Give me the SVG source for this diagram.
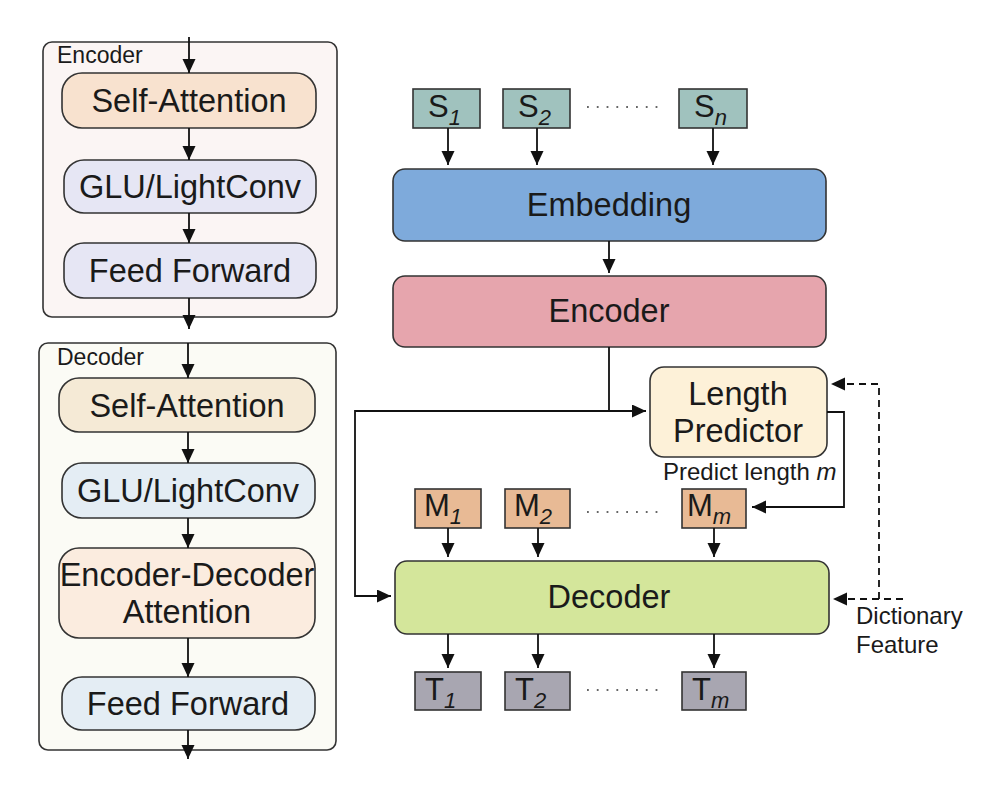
<svg xmlns="http://www.w3.org/2000/svg" width="1006" height="796" viewBox="0 0 1006 796">
<defs>
<marker id="ah" markerUnits="userSpaceOnUse" markerWidth="16" markerHeight="14" refX="14" refY="6.5" orient="auto">
<path d="M0,0 L14,6.5 L0,13 z" fill="#111"/>
</marker>
<style>
text{font-family:"Liberation Sans",Arial,sans-serif;fill:#1a1a1a}
.box{stroke:#333;stroke-width:1.6}
.big{font-size:32.5px;text-anchor:middle}
.rbig{font-size:32.5px;text-anchor:middle}
.lbl{font-size:23px}
.small{font-size:24px}
.sym{font-size:31px}
.sub{font-size:22px;font-style:italic}
.con{fill:none;stroke:#111;stroke-width:1.8}
.dash{fill:none;stroke:#111;stroke-width:1.8;stroke-dasharray:7,5}
.dots{fill:none;stroke:#666;stroke-width:1.8;stroke-dasharray:1.8,8}
</style>
</defs>
<rect width="1006" height="796" fill="#fff"/>

<g id="enc-block">
<rect class="box" x="43" y="42" width="294" height="275" rx="9" fill="#fbf5f4"/>
<text class="lbl" x="57" y="63">Encoder</text>
</g>
<g id="enc-self-attn"><rect class="box" x="62" y="73" width="254" height="55" rx="20" fill="#f8e2cf"/><text class="big" x="189" y="112">Self-Attention</text></g>
<g id="enc-glu"><rect class="box" x="64" y="160" width="252" height="53" rx="20" fill="#e6e6f4"/><text class="big" x="190" y="198">GLU/LightConv</text></g>
<g id="enc-ff"><rect class="box" x="64" y="243" width="252" height="55" rx="20" fill="#e6e6f4"/><text class="big" x="190" y="282">Feed Forward</text></g>

<g id="dec-block">
<rect class="box" x="39" y="343" width="297" height="407" rx="9" fill="#fbfbf5"/>
<text class="lbl" x="57" y="365">Decoder</text>
</g>
<g id="dec-self-attn"><rect class="box" x="59" y="378" width="256" height="54" rx="20" fill="#f5ead6"/><text class="big" x="187" y="417">Self-Attention</text></g>
<g id="dec-glu"><rect class="box" x="62" y="463" width="253" height="55" rx="20" fill="#e4edf4"/><text class="big" x="188" y="502">GLU/LightConv</text></g>
<g id="dec-encdec"><rect class="box" x="59" y="548" width="256" height="90" rx="20" fill="#fbecdf"/><text class="big" x="187" y="586">Encoder-Decoder</text><text class="big" x="187" y="623">Attention</text></g>
<g id="dec-ff"><rect class="box" x="62" y="677" width="253" height="53" rx="20" fill="#e4edf4"/><text class="big" x="188" y="715">Feed Forward</text></g>

<g id="s1"><rect class="box" x="413" y="89" width="67" height="39" fill="#a0c2be"/><text x="428" y="117"><tspan class="sym">S</tspan><tspan class="sub" dy="8">1</tspan></text></g>
<g id="s2"><rect class="box" x="503" y="89" width="67" height="39" fill="#a0c2be"/><text x="518" y="117"><tspan class="sym">S</tspan><tspan class="sub" dy="8">2</tspan></text></g>
<g id="sn"><rect class="box" x="679" y="89" width="68" height="39" fill="#a0c2be"/><text x="694" y="117"><tspan class="sym">S</tspan><tspan class="sub" dy="8">n</tspan></text></g>

<g id="embedding"><rect class="box" x="393" y="169" width="433" height="72" rx="12" fill="#7eaadb"/><text class="rbig" x="609" y="216">Embedding</text></g>
<g id="encoder"><rect class="box" x="393" y="276" width="433" height="71" rx="12" fill="#e6a5ad"/><text class="rbig" x="609" y="322">Encoder</text></g>
<g id="length-predictor"><rect class="box" x="650" y="367" width="177" height="90" rx="14" fill="#fdf1d8"/><text class="rbig" x="738" y="405">Length</text><text class="rbig" x="738" y="442">Predictor</text></g>
<g id="predict-label"><text class="small" x="663" y="480">Predict length <tspan font-style="italic">m</tspan></text></g>

<g id="m1"><rect class="box" x="415" y="489" width="66" height="39" fill="#e8ba95"/><text x="424" y="516"><tspan class="sym">M</tspan><tspan class="sub" dy="8">1</tspan></text></g>
<g id="m2"><rect class="box" x="505" y="489" width="65" height="39" fill="#e8ba95"/><text x="514" y="516"><tspan class="sym">M</tspan><tspan class="sub" dy="8">2</tspan></text></g>
<g id="mm"><rect class="box" x="682" y="489" width="64" height="39" fill="#e8ba95"/><text x="687" y="516"><tspan class="sym">M</tspan><tspan class="sub" dy="8">m</tspan></text></g>

<g id="decoder"><rect class="box" x="395" y="561" width="434" height="73" rx="12" fill="#d4e69b"/><text class="rbig" x="609" y="608">Decoder</text></g>

<g id="t1"><rect class="box" x="415" y="672" width="66" height="38" fill="#a8a6b1"/><text x="425" y="700"><tspan class="sym">T</tspan><tspan class="sub" dy="8">1</tspan></text></g>
<g id="t2"><rect class="box" x="505" y="672" width="65" height="38" fill="#a8a6b1"/><text x="515" y="700"><tspan class="sym">T</tspan><tspan class="sub" dy="8">2</tspan></text></g>
<g id="tm"><rect class="box" x="682" y="672" width="64" height="38" fill="#a8a6b1"/><text x="692" y="700"><tspan class="sym">T</tspan><tspan class="sub" dy="8">m</tspan></text></g>

<g id="dict-label"><text class="small" x="856" y="624">Dictionary</text><text class="small" x="856" y="653">Feature</text></g>

<g id="connectors">
<line class="con" x1="189" y1="37" x2="189" y2="73" marker-end="url(#ah)"/>
<line class="con" x1="189" y1="128" x2="189" y2="160" marker-end="url(#ah)"/>
<line class="con" x1="189" y1="213" x2="189" y2="243" marker-end="url(#ah)"/>
<line class="con" x1="189" y1="298" x2="189" y2="329" marker-end="url(#ah)"/>
<line class="con" x1="188" y1="343" x2="188" y2="378" marker-end="url(#ah)"/>
<line class="con" x1="188" y1="432" x2="188" y2="463" marker-end="url(#ah)"/>
<line class="con" x1="188" y1="518" x2="188" y2="548" marker-end="url(#ah)"/>
<line class="con" x1="188" y1="638" x2="188" y2="677" marker-end="url(#ah)"/>
<line class="con" x1="188" y1="730" x2="188" y2="759" marker-end="url(#ah)"/>

<line class="con" x1="448" y1="128" x2="448" y2="165" marker-end="url(#ah)"/>
<line class="con" x1="537" y1="128" x2="537" y2="165" marker-end="url(#ah)"/>
<line class="con" x1="713" y1="128" x2="713" y2="165" marker-end="url(#ah)"/>
<path class="dots" d="M587,107 H662"/>
<line class="con" x1="609" y1="241" x2="609" y2="273" marker-end="url(#ah)"/>
<path class="con" d="M609,347 V411 H646" marker-end="url(#ah)"/>
<path class="con" d="M609,411 H355 V596 H391" marker-end="url(#ah)"/>
<path class="con" d="M827,412 H844 V507 H752" marker-end="url(#ah)"/>
<line class="con" x1="448" y1="528" x2="448" y2="557" marker-end="url(#ah)"/>
<line class="con" x1="538" y1="528" x2="538" y2="557" marker-end="url(#ah)"/>
<line class="con" x1="714" y1="528" x2="714" y2="557" marker-end="url(#ah)"/>
<path class="dots" d="M587,512 H662"/>
<line class="con" x1="448" y1="634" x2="448" y2="668" marker-end="url(#ah)"/>
<line class="con" x1="538" y1="634" x2="538" y2="668" marker-end="url(#ah)"/>
<line class="con" x1="714" y1="634" x2="714" y2="668" marker-end="url(#ah)"/>
<path class="dots" d="M587,690 H662"/>
<path class="dash" d="M879,599 V384 H831" marker-end="url(#ah)"/>
<path class="dash" d="M903,599 H833" marker-end="url(#ah)"/>
</g>
</svg>
